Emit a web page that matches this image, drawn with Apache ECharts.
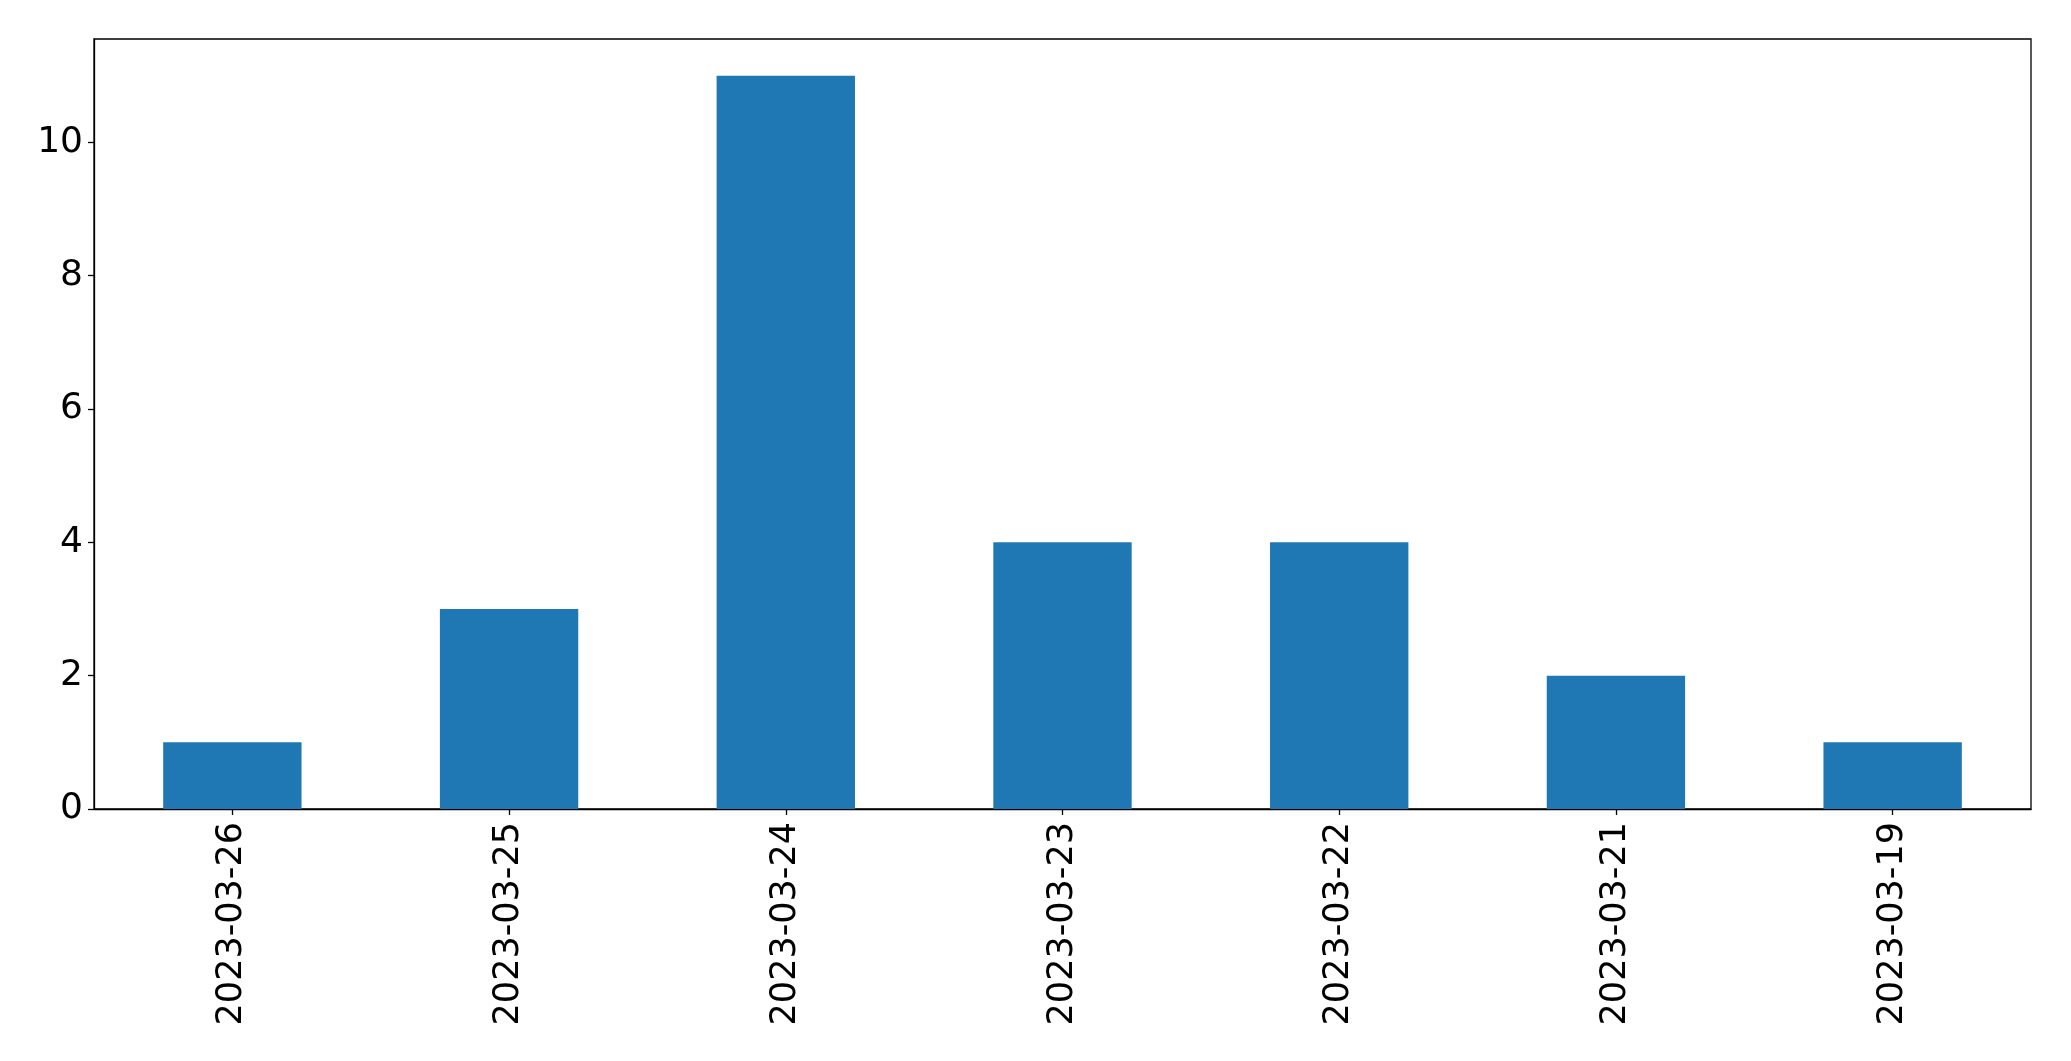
<!DOCTYPE html>
<html>
<head>
<meta charset="utf-8">
<script src="https://cdn.jsdelivr.net/npm/echarts@6/dist/echarts.min.js"></script>
<style>html,body{margin:0;padding:0;background:#fff;}#c{width:2071px;height:1061px;}</style>
</head>
<body>
<div id="c"></div>
<script>
const categories = ['2023-03-26','2023-03-25','2023-03-24','2023-03-23','2023-03-22','2023-03-21','2023-03-19'];
const counts = [1, 3, 11, 4, 4, 2, 1];
const yMax = 11.55;

const chart = echarts.init(document.getElementById('c'), null, {renderer: 'canvas'});
chart.setOption({
  animation: false,
  backgroundColor: '#fff',
  textStyle: {fontFamily: 'DejaVu Sans'},
  grid: {left: 94, right: 40, top: 39, bottom: 252, show: true, borderColor: '#000', borderWidth: 1.3, backgroundColor: 'transparent'},
  xAxis: {
    type: 'category',
    data: categories,
    axisLine: {show: true, lineStyle: {color: '#000', width: 1.3}},
    axisTick: {show: true, alignWithLabel: true, length: 6, lineStyle: {color: '#000', width: 1.3}},
    axisLabel: {rotate: 90, fontSize: 35, color: '#000', margin: 13, fontFamily: 'DejaVu Sans'}
  },
  yAxis: {
    type: 'value',
    min: 0, max: yMax, interval: 2,
    splitLine: {show: false},
    axisLine: {show: true, lineStyle: {color: '#000', width: 1.3}},
    axisTick: {show: true, length: 6, lineStyle: {color: '#000', width: 1.3}},
    axisLabel: {fontSize: 36, color: '#000', margin: 11, showMaxLabel: false, fontFamily: 'DejaVu Sans'}
  },
  series: [{
    type: 'bar',
    data: counts,
    barWidth: '50%',
    itemStyle: {color: '#1f77b4'}
  }]
});
</script>
</body>
</html>
